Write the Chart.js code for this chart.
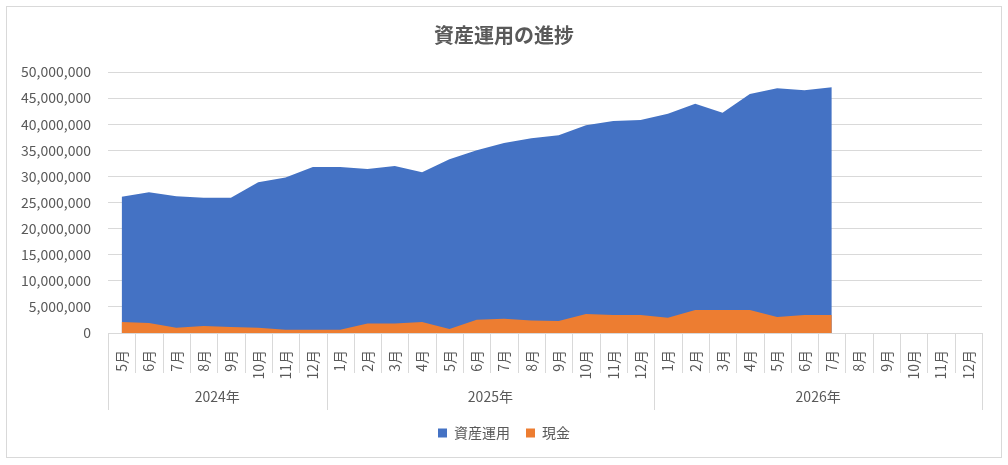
<!DOCTYPE html>
<html>
<head>
<meta charset="utf-8">
<script src="https://cdn.jsdelivr.net/npm/chart.js@4/dist/chart.umd.min.js"></script>
<style>
  html, body { margin: 0; padding: 0; background: #fff; }
  #wrap { width: 1008px; height: 465px; }
</style>
</head>
<body>
<div id="wrap"><canvas id="progressChart"></canvas></div>
<script>
// categories: month labels grouped by year
const months = ['5月','6月','7月','8月','9月','10月','11月','12月',
  '1月','2月','3月','4月','5月','6月','7月','8月','9月','10月','11月','12月',
  '1月','2月','3月','4月','5月','6月','7月','8月','9月','10月','11月','12月'];
const years = ['2024年', '2025年', '2026年'];
const yearSpans = [8, 12, 12];

// 資産運用 (total)
const assets = [26100000, 26950000, 26200000, 25900000, 25900000, 28900000, 29800000, 31800000,
  31800000, 31400000, 32000000, 30800000, 33300000, 35000000, 36400000, 37300000, 37900000, 39800000, 40600000, 40800000,
  42000000, 43900000, 42200000, 45800000, 46900000, 46500000, 47100000, null, null, null, null, null];
// 現金
const cash = [2100000, 1900000, 1000000, 1350000, 1150000, 1000000, 600000, 600000,
  600000, 1800000, 1800000, 2100000, 750000, 2550000, 2750000, 2400000, 2300000, 3640000, 3450000, 3450000,
  2940000, 4400000, 4400000, 4400000, 3060000, 3450000, 3450000, null, null, null, null, null];

const yTicks = { min: 0, max: 50000000, step: 5000000 };

const FONT = '"Noto Sans CJK JP", "Noto Sans", sans-serif';
const GREY = '#595959';
const LINE = '#d9d9d9';

// chart frame like the Excel chart area
const framePlugin = {
  id: 'frame',
  beforeDraw(chart) {
    const ctx = chart.ctx;
    ctx.save();
    ctx.fillStyle = '#fff';
    ctx.fillRect(0, 0, chart.width, chart.height);
    ctx.strokeStyle = LINE;
    ctx.lineWidth = 1;
    ctx.strokeRect(6.5, 6.5, chart.width - 13, chart.height - 14);
    ctx.restore();
  }
};

// two level category axis: month separators + year row
const yearAxisPlugin = {
  id: 'yearAxis',
  afterDraw(chart) {
    const x = chart.scales.x;
    const ctx = chart.ctx;
    const half = (x.getPixelForValue(1) - x.getPixelForValue(0)) / 2;
    const top = x.top;
    const bounds = [0];
    yearSpans.forEach(n => bounds.push(bounds[bounds.length - 1] + n));
    ctx.save();
    ctx.strokeStyle = LINE;
    ctx.lineWidth = 1;
    for (let i = 0; i <= months.length; i++) {
      const px = Math.round(x.getPixelForValue(i) - half) + 0.5;
      const isYear = bounds.includes(i);
      ctx.beginPath();
      ctx.moveTo(px, top);
      ctx.lineTo(px, top + (isYear ? 77 : 40));
      ctx.stroke();
    }
    ctx.beginPath();
    ctx.moveTo(x.left, Math.round(top) + 0.5);
    ctx.lineTo(x.right, Math.round(top) + 0.5);
    ctx.stroke();
    ctx.fillStyle = GREY;
    ctx.font = '14px ' + FONT;
    ctx.textAlign = 'center';
    ctx.textBaseline = 'middle';
    years.forEach((label, k) => {
      const a = x.getPixelForValue(bounds[k]) - half;
      const b = x.getPixelForValue(bounds[k + 1]) - half;
      ctx.fillText(label, (a + b) / 2, top + 64);
    });
    ctx.restore();
  }
};

new Chart(document.getElementById('progressChart'), {
  type: 'line',
  data: {
    labels: months,
    datasets: [{
      label: '資産運用',
      data: assets,
      order: 1,
      fill: 'origin',
      backgroundColor: '#4472C4',
      borderColor: '#4472C4',
      borderWidth: 0,
      pointRadius: 0,
      tension: 0
    }, {
      label: '現金',
      data: cash,
      order: 0,
      fill: 'origin',
      backgroundColor: '#ED7D31',
      borderColor: '#ED7D31',
      borderWidth: 0,
      pointRadius: 0,
      tension: 0
    }]
  },
  options: {
    responsive: true,
    maintainAspectRatio: false,
    animation: false,
    layout: { padding: { left: 0, right: 0, top: 0, bottom: 15 } },
    plugins: {
      title: {
        display: true,
        text: '資産運用の進捗',
        color: GREY,
        font: { family: FONT, size: 20, weight: 'bold' },
        padding: { top: 23, bottom: 25 }
      },
      legend: {
        position: 'bottom',
        labels: {
          color: GREY,
          font: { family: FONT, size: 14 },
          boxWidth: 9,
          boxHeight: 9,
          padding: 16,
          sort: (a, b) => a.datasetIndex - b.datasetIndex
        }
      },
      tooltip: { enabled: false }
    },
    scales: {
      x: {
        offset: true,
        grid: { display: false },
        border: { display: false },
        ticks: {
          color: GREY,
          font: { family: FONT, size: 14 },
          autoSkip: false,
          maxRotation: 90,
          minRotation: 90,
          padding: 9
        },
        afterFit(s) { s.height = 77; }
      },
      y: {
        min: yTicks.min,
        max: yTicks.max,
        grid: { color: LINE, drawTicks: false },
        border: { display: false },
        ticks: {
          stepSize: yTicks.step,
          color: GREY,
          padding: 17,
          font: { family: FONT, size: 14 },
          callback: v => v.toLocaleString('en-US')
        },
        afterFit(s) { s.width = 108; }
      },
      // empty right-hand margin so title and legend centre on the whole frame
      yRight: {
        position: 'right',
        display: true,
        grid: { display: false },
        border: { display: false },
        ticks: { display: false },
        afterFit(s) { s.width = 26; }
      }
    }
  },
  plugins: [framePlugin, yearAxisPlugin]
});
</script>
</body>
</html>
